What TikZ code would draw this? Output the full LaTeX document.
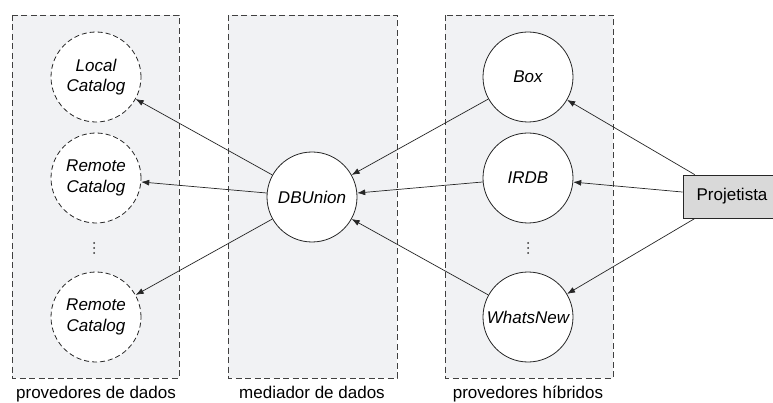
\documentclass[tikz,border=0pt]{standalone}
\usepackage{fontspec}
\setmainfont{Liberation Sans}
\usetikzlibrary{arrows.meta}
\begin{document}
\begin{tikzpicture}[x=1pt,y=-1pt,
  font=\fontsize{17}{20.5}\selectfont,
  panel/.style={draw=black!75, fill=panelgray, line width=0.8pt, dash pattern=on 6pt off 3.5pt},
  comp/.style={circle, draw=black!85, fill=white, line width=0.8pt, minimum size=90pt, inner sep=0pt, align=center, font=\fontsize{17}{20.5}\selectfont\itshape},
  dcomp/.style={comp, dash pattern=on 5pt off 3pt},
  actor/.style={draw=black!85, fill=actorgray, line width=0.8pt, minimum width=98pt, minimum height=43pt, inner sep=0pt},
  flow/.style={-{Latex[length=8pt,width=6pt]}, line width=0.7pt, draw=black!85},
  caption/.style={anchor=base}
]
\definecolor{panelgray}{HTML}{F1F2F4}
\definecolor{actorgray}{HTML}{D9D9D9}
\useasboundingbox (0,0) rectangle (773,403);

% the three groups
\draw[panel] (12,15) rectangle (179,378);
\draw[panel] (228,15) rectangle (397,378);
\draw[panel] (445,15) rectangle (613,378);

\node[caption] (capA) at (96,398) {provedores de dados};
\node[caption] (capB) at (312,398) {mediador de dados};
\node[caption] (capC) at (528,398) {provedores híbridos};

% data providers
\node[dcomp] (local) at (96,77) {Local\\Catalog};
\node[dcomp] (rem1) at (96,178) {Remote\\Catalog};
\node[dcomp] (rem2) at (96,317) {Remote\\Catalog};

% mediator
\node[comp] (db) at (312,197) {DBUnion};

% hybrid providers
\node[comp] (box) at (528,77) {Box};
\node[comp] (irdb) at (528,178) {IRDB};
\node[comp] (wn) at (528,317) {WhatsNew};

% elision marks
\foreach \yy in {243,248,253} {
  \fill[black!80] (94,\yy) circle (1pt);
  \fill[black!80] (528,\yy) circle (1pt);
}

% designer
\node[actor] (proj) at (732,196.5) {Projetista};

% connectors
\draw[flow] (db) -- (local);
\draw[flow] (db) -- (rem1);
\draw[flow] (db) -- (rem2);
\draw[flow] (box) -- (db);
\draw[flow] (irdb) -- (db);
\draw[flow] (wn) -- (db);
\draw[flow] (proj) -- (box);
\draw[flow] (proj) -- (irdb);
\draw[flow] (proj) -- (wn);
\end{tikzpicture}
\end{document}
